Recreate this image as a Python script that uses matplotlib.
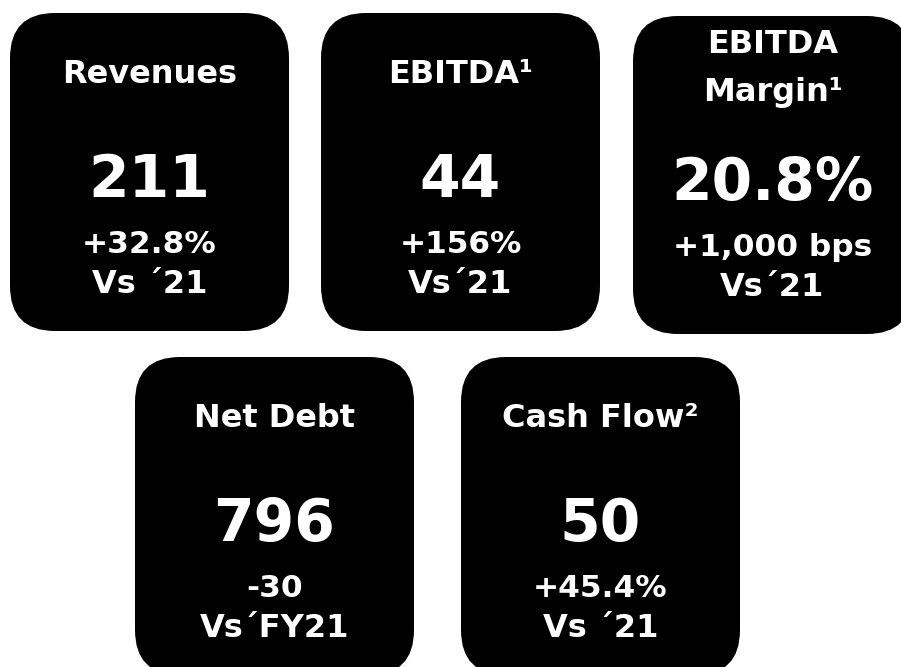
import matplotlib
matplotlib.use("Agg")
import matplotlib.pyplot as plt
from matplotlib.patches import FancyBboxPatch

# KPI card contents
titles = ["Revenues", "EBITDA¹", "EBITDA\nMargin¹", "Net Debt", "Cash Flow²"]
values = ["211", "44", "20.8%", "796", "50"]
changes = ["+32.8%", "+156%", "+1,000 bps", "-30", "+45.4%"]
comparisons = ["Vs ´21", "Vs´21", "Vs´21", "Vs´FY21", "Vs ´21"]

# card layout (pixels, top-left origin)
card_xy = [(10, 13), (321, 13), (633, 16), (135, 357), (461, 357)]
card_w, card_h = 279, 318

fig = plt.figure(figsize=(9.01, 6.67), dpi=100)
ax = fig.add_axes([0, 0, 1, 1])
ax.set_xlim(0, 901)
ax.set_ylim(667, 0)
ax.axis("off")

font = dict(family="DejaVu Sans", weight="bold", color="white", ha="center", va="baseline")

for i in range(len(titles)):
    x0, y0 = card_xy[i]
    box = FancyBboxPatch((x0, y0), card_w, card_h,
                         boxstyle="round,pad=0,rounding_size=45",
                         facecolor="black", edgecolor="none")
    ax.add_patch(box)
    cx = x0 + card_w / 2

    lines = titles[i].split("\n")
    if len(lines) == 1:
        ax.text(cx, y0 + 70, lines[0], fontsize=23, **font)
    else:
        ax.text(cx, y0 + 37, lines[0], fontsize=23, **font)
        ax.text(cx, y0 + 85, lines[1], fontsize=23, **font)

    ax.text(cx, y0 + 184, values[i], fontsize=42, **font)
    ax.text(cx, y0 + 240, changes[i], fontsize=22.5, **font)
    ax.text(cx, y0 + 280, comparisons[i], fontsize=23, **font)

plt.savefig("out.png", dpi=100)
